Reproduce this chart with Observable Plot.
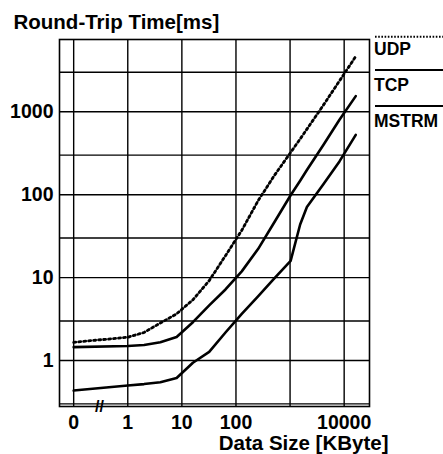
<!DOCTYPE html>
<html>
<head>
<meta charset="utf-8">
<script src="https://cdn.jsdelivr.net/npm/d3@7"></script>
<script src="https://cdn.jsdelivr.net/npm/@observablehq/plot@0.6"></script>
<style>
  html, body { margin: 0; padding: 0; background: #fff; overflow: hidden; }
</style>
</head>
<body>
<div id="chart"></div>
<script>
// ---- data ----
const sizes = [0, 1, 2, 4, 8, 16, 32, 64, 128, 256, 512, 1024, 1536, 2048, 4096, 8192, 16384]; // KByte
const udp   = [1.66, 1.91, 2.18, 2.83, 3.66, 5.4, 9.2, 18.4, 37.2, 84.4, 170.6, 323, 471, 618, 1195, 2360, 4660];
const tcp   = [1.45, 1.50, 1.54, 1.66, 1.92, 2.90, 4.63, 7.2, 11.9, 22.1, 46.5, 98.6, 147.5, 198.6, 395, 801, 1546];
const mstrm = [0.435, 0.50, 0.52, 0.547, 0.615, 0.94, 1.27, 2.18, 3.66, 5.93, 9.78, 15.9, 43.7, 71, 133, 252, 528];

const seriesNames = ["UDP", "TCP", "MSTRM"];
const xTicks = [0.1, 1, 10, 100, 1000, 10000];           // 0 is drawn at the 0.1 position (axis break)
const xTickLabels = ["0", "1", "10", "100", "", "10000"];
const yGrid = [0.3, 1, 3, 10, 30, 100, 300, 1000, 3000];
const yTicks = [1, 10, 100, 1000];
const yTickLabels = ["1", "10", "100", "1000"];
const breakMark = [{x: 0.3, text: "//"}];
const zeroPos = 0.1;

const title = "Round-Trip Time[ms]";
const xLabel = "Data Size [KByte]";

// ---- build table ----
const table = [];
[udp, tcp, mstrm].forEach((vals, k) => {
  sizes.forEach((s, i) => table.push({series: seriesNames[k], size: s === 0 ? zeroPos : s, rtt: vals[i]}));
});
const xFmt = new Map(xTicks.map((t, i) => [t, xTickLabels[i]]));
const yFmt = new Map(yTicks.map((t, i) => [t, yTickLabels[i]]));

const font = "'Liberation Sans', Arial, Helvetica, sans-serif";

const svg = Plot.plot({
  width: 443,
  height: 454,
  marginLeft: 59,
  marginRight: 74,
  marginTop: 39,
  marginBottom: 48,
  style: {fontFamily: font, fontWeight: "bold", fontSize: "19px", color: "black", background: "white"},
  x: {type: "log", domain: [0.0547, 29400], label: null},
  y: {type: "log", domain: [0.279, 7450], label: null},
  marks: [
    Plot.ruleY(yGrid, {stroke: "black", strokeWidth: 1.4}),
    Plot.ruleX(xTicks, {stroke: "black", strokeWidth: 1.4}),
    Plot.frame({stroke: "black", strokeWidth: 1.6}),
    Plot.axisX({ticks: xTicks, tickFormat: d => xFmt.get(d) ?? "", tickSize: 0, tickPadding: 9, label: null, fontSize: 19.5, fontWeight: "bold", fill: "black"}),
    Plot.axisY({ticks: yTicks, tickFormat: d => yFmt.get(d) ?? "", tickSize: 0, tickPadding: 6, label: null, fontSize: 19.5, fontWeight: "bold", fill: "black"}),
    Plot.line(table.filter(d => d.series === "UDP"), {x: "size", y: "rtt", stroke: "black", strokeWidth: 2.8, strokeDasharray: "2.1 2.9"}),
    Plot.line(table.filter(d => d.series === "TCP"), {x: "size", y: "rtt", stroke: "black", strokeWidth: 2.6}),
    Plot.line(table.filter(d => d.series === "MSTRM"), {x: "size", y: "rtt", stroke: "black", strokeWidth: 2.6}),
    Plot.text(breakMark, {x: "x", text: "text", frameAnchor: "bottom", lineAnchor: "middle", fontSize: 16, fontWeight: "bold", fill: "black"}),
    Plot.text([title], {frameAnchor: "top-left", textAnchor: "start", lineAnchor: "middle", dx: -46, dy: -16.6, fontSize: 20.5, fontWeight: "bold", fill: "black"}),
    Plot.text([xLabel], {frameAnchor: "bottom-right", textAnchor: "end", lineAnchor: "middle", dx: 19, dy: 37, fontSize: 20.5, fontWeight: "bold", fill: "black"})
  ]
});

// ---- legend on the right (line above each label) ----
const legend = [
  {name: "UDP",   lineY: 36.7, textY: 55,   dash: "1.6 1.6", width: 2},
  {name: "TCP",   lineY: 70,   textY: 90.7, dash: null,      width: 2},
  {name: "MSTRM", lineY: 106,  textY: 126.5, dash: null,     width: 2.2}
];
const g = d3.select(svg).append("g")
  .attr("font-family", font).attr("font-weight", "bold").attr("font-size", 17.5).attr("text-anchor", "start");
legend.forEach(d => {
  const l = g.append("line").attr("x1", 375).attr("x2", 443).attr("y1", d.lineY).attr("y2", d.lineY)
    .attr("stroke", "black").attr("stroke-width", d.width);
  if (d.dash) l.attr("stroke-dasharray", d.dash);
  g.append("text").attr("x", 374).attr("y", d.textY).attr("fill", "black").text(d.name);
});

document.getElementById("chart").appendChild(svg);
</script>
</body>
</html>
